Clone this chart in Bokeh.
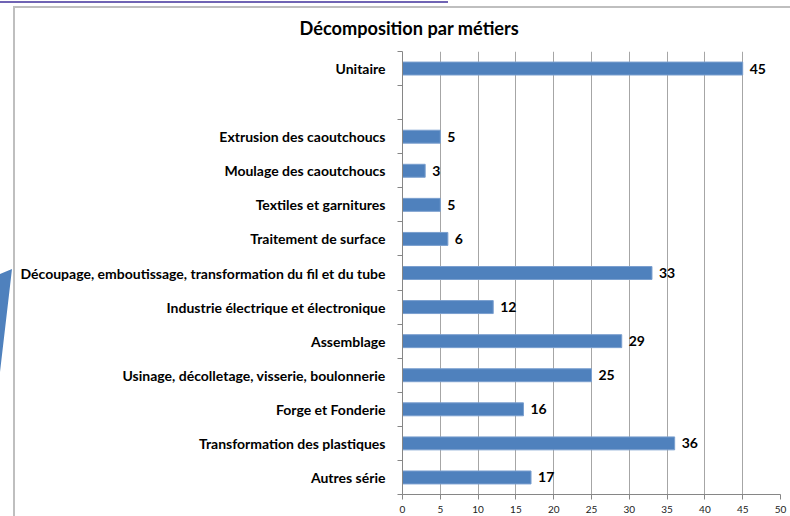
from bokeh.plotting import figure
from bokeh.models import ColumnDataSource, FixedTicker, Range1d, InlineStyleSheet
from bokeh.embed import file_html
from bokeh.resources import INLINE
from bokeh.core.properties import value

title_text = "Décomposition par métiers"
categories = [
    "Unitaire",
    "",
    "Extrusion des caoutchoucs",
    "Moulage des caoutchoucs",
    "Textiles et garnitures",
    "Traitement de surface",
    "Découpage, emboutissage, transformation du fil et du tube",
    "Industrie électrique et électronique",
    "Assemblage",
    "Usinage, décolletage, visserie, boulonnerie",
    "Forge et Fonderie",
    "Transformation des plastiques",
    "Autres série",
]
values = [45, None, 5, 3, 5, 6, 33, 12, 29, 25, 16, 36, 17]
x_ticks = [0, 5, 10, 15, 20, 25, 30, 35, 40, 45, 50]

FONT = "Lato"
BAR = "#4F81BD"
GRID = "#A6A6A6"
AXIS = "#868686"

W, H = 790, 516
FL, FR, FT, FB = 402, 780, 51, 494   # frame edges on the page

n = len(categories)
ypos = [n - 1 - i for i in range(n)]

p = figure(width=W, height=H, output_backend="svg", toolbar_location=None,
           x_range=Range1d(0, 50), y_range=Range1d(-0.5, n - 0.5),
           min_border_left=FL, min_border_right=W - FR, min_border_top=FT,
           min_border_bottom=H - FB)
p.outline_line_color = None
p.background_fill_color = "white"
p.border_fill_color = "white"

ys, vs, labs = [], [], []
for y, v in zip(ypos, values):
    if v is not None:
        ys.append(y)
        vs.append(v)
        labs.append(str(v))
src = ColumnDataSource(dict(y=ys, v=vs, lab=labs))

p.hbar(y="y", left=0, right="v", height=0.38, source=src,
       fill_color=BAR, line_color="#7A9FCF", line_width=1)
p.text(x="v", y="y", text="lab", source=src, x_offset=7,
       text_align="left", text_baseline="middle",
       text_font=value(FONT), text_font_style="bold",
       text_font_size="14px", text_color="black")

# title
p.title.text = title_text
p.title.align = "left"
p.title.offset = 299 - FL
p.title.standoff = 25
p.title.text_font = FONT
p.title.text_font_style = "bold"
p.title.text_font_size = "18.2px"
p.title.text_color = "black"

# x axis
xa = p.xaxis[0]
xa.ticker = FixedTicker(ticks=x_ticks, minor_ticks=[])
xa.axis_line_color = AXIS
xa.major_tick_line_color = AXIS
xa.major_tick_out = 5
xa.major_tick_in = 0
xa.minor_tick_line_color = None
xa.major_label_standoff = 6
xa.major_label_text_font = FONT
xa.major_label_text_font_size = "10px"
xa.major_label_text_color = "#222222"

p.xgrid.ticker = FixedTicker(ticks=x_ticks[1:])
p.xgrid.grid_line_color = GRID
p.ygrid.visible = False

# y axis
ya = p.yaxis[0]
ya.ticker = FixedTicker(ticks=ypos, minor_ticks=[k + 0.5 for k in range(-1, n)])
ya.major_label_overrides = {y: c for y, c in zip(ypos, categories)}
ya.axis_line_color = AXIS
ya.major_tick_out = 0
ya.major_tick_in = 0
ya.major_tick_line_color = None
ya.minor_tick_out = 5
ya.minor_tick_in = 0
ya.minor_tick_line_color = AXIS
ya.major_label_standoff = 12
ya.major_label_text_font = FONT
ya.major_label_text_font_style = "bold"
ya.major_label_text_font_size = "14px"
ya.major_label_text_color = "black"

# slide decorations around the chart (outer chart border, top rule, side accent)
css = """
:host { position: relative; }
:host::before {
  content: ""; position: absolute; left: 13px; top: 6px; right: 0; bottom: 0;
  border-left: 2px solid #BFBFBF; border-top: 2px solid #BFBFBF;
  pointer-events: none; z-index: 5;
}
:host::after {
  content: ""; position: absolute; left: 0; top: 0; width: 448px; height: 372px;
  background: linear-gradient(to bottom, #7064B4 0px, #7064B4 10px, #4F81BD 10px, #4F81BD 100%);
  clip-path: polygon(0px 1px, 448px 1px, 448px 3px, 0px 3px, 0px 274px, 12px 269px, 0px 372px);
  pointer-events: none; z-index: 5;
}
"""
p.stylesheets = [InlineStyleSheet(css=css)]

open("out.html", "w").write(file_html(p, INLINE))
